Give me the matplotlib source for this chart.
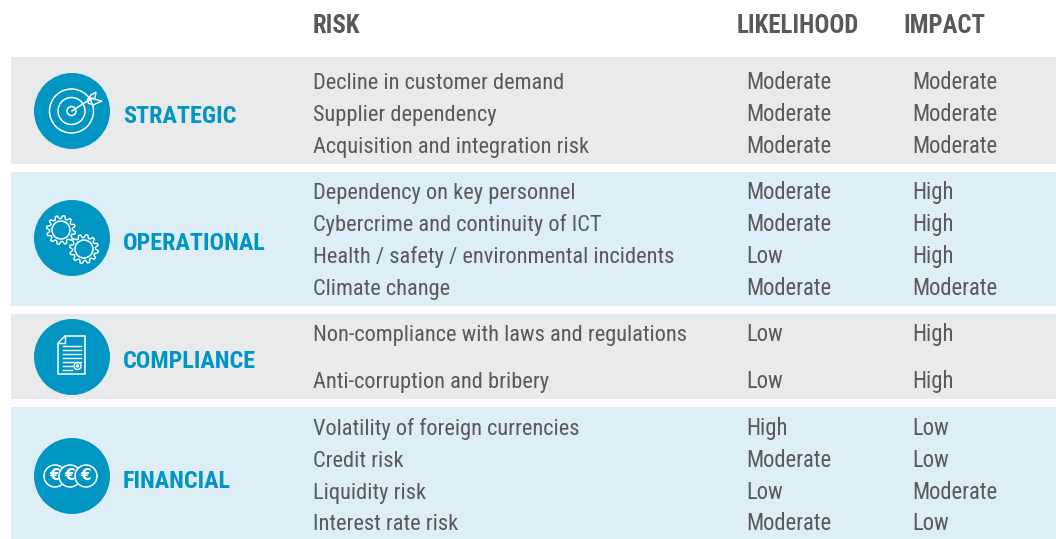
import numpy as np
import matplotlib
matplotlib.use('Agg')
import matplotlib.pyplot as plt
from matplotlib.patches import Rectangle, Circle, Polygon

# table content
headers = ['RISK', 'LIKELIHOOD', 'IMPACT']
categories = ['STRATEGIC', 'OPERATIONAL', 'COMPLIANCE', 'FINANCIAL']
risks = ['Decline in customer demand', 'Supplier dependency', 'Acquisition and integration risk',
         'Dependency on key personnel', 'Cybercrime and continuity of ICT',
         'Health / safety / environmental incidents', 'Climate change',
         'Non-compliance with laws and regulations', 'Anti-corruption and bribery',
         'Volatility of foreign currencies', 'Credit risk', 'Liquidity risk', 'Interest rate risk']
likelihood = ['Moderate', 'Moderate', 'Moderate', 'Moderate', 'Moderate', 'Low', 'Moderate',
              'Low', 'Low', 'High', 'Moderate', 'Low', 'Moderate']
impact = ['Moderate', 'Moderate', 'Moderate', 'High', 'High', 'High', 'Moderate',
          'High', 'High', 'Low', 'Low', 'Moderate', 'Low']

# layout in pixels of the picture
row_base = [89, 121, 153, 199, 231, 263, 295, 341, 388, 435, 467, 499, 530]
band_top = [57, 172, 314, 407]
band_bottom = [164, 306, 399, 539]
icon_y = [111, 238, 357, 476]
label_base = [123, 250, 368, 488]

TEXT = '#58595b'
BLUE = '#0095c3'
GREY_BAND = '#e9eaec'
BLUE_BAND = '#ddeef6'
FONT = ['Roboto Condensed', 'Liberation Sans', 'DejaVu Sans']

plt.rcParams['font.family'] = FONT

fig = plt.figure(figsize=(10.56, 5.39), dpi=100)
ax = fig.add_axes([0, 0, 1, 1])
ax.set_xlim(0, 1056)
ax.set_ylim(539, 0)
ax.axis('off')

for i in range(4):
    col = GREY_BAND if i % 2 == 0 else BLUE_BAND
    ax.add_patch(Rectangle((11, band_top[i]), 1045, band_bottom[i] - band_top[i], fc=col, ec='none'))
    ax.add_patch(Circle((72, icon_y[i]), 38, fc=BLUE, ec='none'))
    ax.text(123, label_base[i], categories[i], color=BLUE, fontsize=17.4, fontweight='bold', va='baseline')

# headers
for x, h in zip([313, 737, 903], headers):
    ax.text(x, 33, h, color=TEXT, fontsize=17.8, fontweight='bold', va='baseline')

# rows
for i in range(len(risks)):
    ax.text(313, row_base[i], risks[i], color=TEXT, fontsize=16.1, va='baseline')
    ax.text(746.5, row_base[i], likelihood[i], color=TEXT, fontsize=16.3, va='baseline')
    ax.text(912.5, row_base[i], impact[i], color=TEXT, fontsize=16.3, va='baseline')


def ring(x, y, r, lw=1.1):
    ax.add_patch(Circle((x, y), r, fc='none', ec='white', lw=lw))


# target icon
for r in (22, 13.5, 4.5):
    ring(71.5, 111, r)
ax.plot([72, 92], [111, 98], color='white', lw=1.1)
ax.add_patch(Polygon([[87, 100], [91, 95], [96, 92], [95, 98]], fc='none', ec='white', lw=1))
ax.add_patch(Polygon([[90, 98], [102, 101], [93, 105], [88, 103]], fc='none', ec='white', lw=1))


# gear icon
def gear(x, y, r_in, r_out, teeth=12):
    ang = np.linspace(0, 2 * np.pi, teeth * 4, endpoint=False)
    rad = np.tile([r_in, r_out, r_out, r_in], teeth)
    ax.add_patch(Polygon(np.c_[x + rad * np.cos(ang), y + rad * np.sin(ang)], fc='none', ec='white', lw=1))
    ring(x, y, r_in - 2.5)


gear(61, 230, 11.5, 14.5)
gear(84, 249, 11.5, 14.5)

# document icon
ax.add_patch(Polygon([[65, 336], [85, 336], [85, 374], [58, 374], [58, 343]], fc='none', ec='white', lw=1.1))
ax.plot([58, 65, 65], [343, 343, 336], color='white', lw=1)
for y in (346, 350, 354, 358, 362):
    ax.plot([63, 81], [y, y], color='white', lw=1)
ax.plot([63, 72], [366, 366], color='white', lw=1)
ax.plot([63, 72], [370, 370], color='white', lw=1)
ring(77.5, 366, 3.5, 1)
ring(77.5, 366, 1, 1)

# euro coins icon, the right coin lies on top
for x in (55, 70, 86):
    ax.add_patch(Circle((x, 476), 11, fc=BLUE, ec='white', lw=1.1, zorder=3))
    ax.text(x, 476, '\u20ac', color='white', fontsize=11, ha='center', va='center',
            family='DejaVu Sans', fontweight='bold', zorder=4)

fig.savefig('out.png', dpi=100)
